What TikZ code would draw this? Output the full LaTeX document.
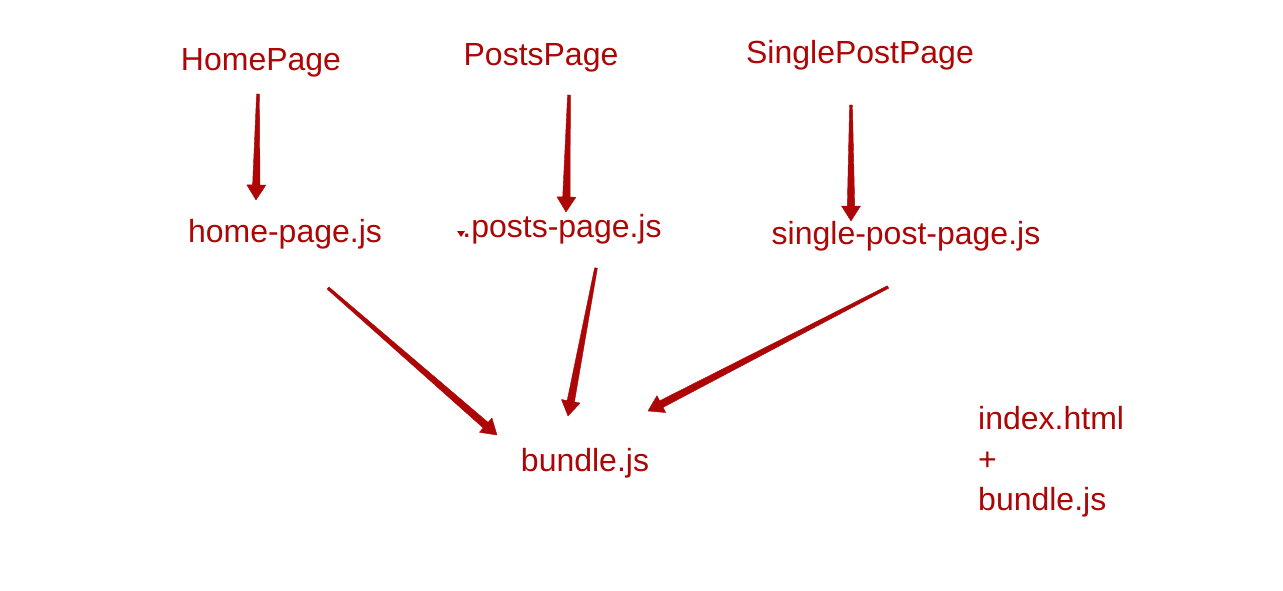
\documentclass[tikz,border=0pt]{standalone}
\usepackage{fontspec}
\setmainfont{Liberation Sans}
\usetikzlibrary{calc}
\definecolor{dred}{RGB}{172,6,6}
\tikzset{
  lbl/.style={text=dred, font=\fontsize{32}{40}\selectfont, inner sep=0pt, anchor=base},
  taparrow/.style={fill=dred, draw=dred, line width=0.4pt, line join=round}
}
% tapered arrow from #1 to #2
\newcommand\taperarrow[2]{%
  \coordinate (hb) at ($(#2)!15pt!(#1)$);
  \path[taparrow] ($(#1)!1.4pt!90:(#2)$) -- ($(hb)!3.7pt!-90:(#1)$) -- ($(hb)!9.5pt!-90:(#1)$)
     -- (#2) -- ($(hb)!9.5pt!90:(#1)$) -- ($(hb)!3.7pt!90:(#1)$) -- ($(#1)!1.4pt!-90:(#2)$) -- cycle;
}
\begin{document}
\begin{tikzpicture}[x=1pt,y=-1pt]
\useasboundingbox (0,0) rectangle (1283,591);
\fill[white] (0,0) rectangle (1283,591);
% labels
\node[lbl] (home) at (261,71) {HomePage};
\node[lbl] (posts) at (541,66) {PostsPage};
\node[lbl] (single) at (860,64) {SinglePostPage};
\node[lbl] (homejs) at (285,242) {home-page.js};
\node[lbl] (postsjs) at (562,237) {.posts-page.js};
\node[lbl] (singlejs) at (906,244) {single-post-page.js};
\node[lbl] (bundle) at (585,471) {bundle.js};
\node[lbl, anchor=base west] (index) at (978,429) {index.html};
\node[lbl, anchor=base west] (plus) at (978,470) {+};
\node[lbl, anchor=base west] (bundle2) at (978,510) {bundle.js};
% arrow endpoints
\coordinate (a1s) at (258,94);  \coordinate (a1e) at (256,200);
\coordinate (a2s) at (569,95);  \coordinate (a2e) at (566,212);
\coordinate (a3s) at (851,105); \coordinate (a3e) at (851,221);
\coordinate (a4s) at (328,288); \coordinate (a4e) at (497,435);
\coordinate (a5s) at (596,268); \coordinate (a5e) at (568,416);
\coordinate (a6s) at (888,287); \coordinate (a6e) at (648,411);
\taperarrow{a1s}{a1e}
\taperarrow{a2s}{a2e}
\taperarrow{a3s}{a3e}
\taperarrow{a4s}{a4e}
\taperarrow{a5s}{a5e}
\taperarrow{a6s}{a6e}
% small mark
\fill[dred] (457,231) -- (465,231) -- (461,237) -- cycle;
\end{tikzpicture}
\end{document}
